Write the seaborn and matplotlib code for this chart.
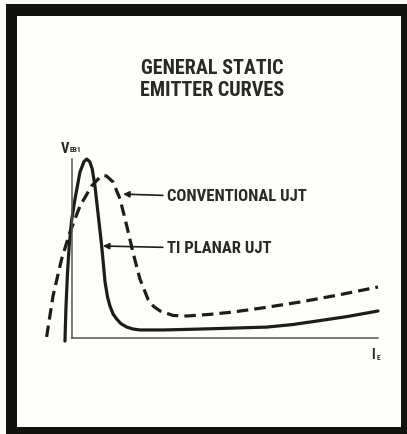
import matplotlib
matplotlib.use("Agg")
import matplotlib.pyplot as plt
from matplotlib.patches import Rectangle
from matplotlib import font_manager
import seaborn as sns
import pandas as pd

# ---- data (arbitrary units, axis spans 0..100) ----
ti_planar_ie = [-2.3, -2.0, -1.5, -0.9, -0.1, 0.98, 2.6, 3.9, 4.8, 5.8, 6.6, 7.5, 8.6, 9.7,
                10.8, 11.6, 12.4, 13.4, 14.6, 16.0, 17.9, 20.0, 22.2, 30.0, 41.8, 52.0,
                63.7, 72.0, 80.1, 90.0, 100.0]
ti_planar_veb = [-1.7, 16.0, 35.5, 52.0, 66.0, 77.7, 92.7, 98.5, 100.0, 98.5, 94.5, 84.9, 68.2,
                 51.4, 31.3, 23.0, 17.9, 13.5, 10.6, 8.0, 6.1, 5.0, 4.5, 4.5, 5.0, 5.5,
                 6.1, 7.5, 9.5, 12.0, 15.1]

conv_ie = [-8.3, -6.2, -3.4, -0.65, 2.6, 6.4, 9.2, 10.3, 11.3, 13.4, 15.7, 17.9, 19.9,
           22.2, 24.8, 26.7, 28.8, 33.0, 37.6, 45.0, 52.6, 63.0, 74.5, 87.0, 100.0]
conv_veb = [0.6, 23.5, 44.1, 59.2, 73.7, 84.9, 90.0, 90.8, 90.5, 87.2, 77.7, 62.6, 48.0,
            33.0, 21.8, 17.6, 15.1, 12.6, 12.3, 13.2, 14.5, 17.0, 20.1, 24.0, 28.5]

title_lines = ["GENERAL STATIC", "EMITTER CURVES"]
series_labels = ["CONVENTIONAL UJT", "TI PLANAR UJT"]

df_ti = pd.DataFrame({"IE": ti_planar_ie, "VEB1": ti_planar_veb})
df_conv = pd.DataFrame({"IE": conv_ie, "VEB1": conv_veb})

# ---- styling ----
sns.set_style("white")

# pick a condensed font if one is installed
fams = {f.name for f in font_manager.fontManager.ttflist}
dejavu_cond = any(f.name == "DejaVu Sans" and str(f.stretch) in ("condensed", "semi-condensed", "600", "500")
                  for f in font_manager.fontManager.ttflist)
FONT = None
STRETCH = "normal"
for cand in ["Liberation Sans Narrow", "Roboto Condensed", "Open Sans Condensed",
             "DejaVu Sans Condensed"]:
    if cand in fams:
        FONT = cand
        break
if FONT is None:
    FONT = "DejaVu Sans"
    if dejavu_cond:
        STRETCH = "condensed"
plt.rcParams["font.family"] = [FONT, "DejaVu Sans"]
plt.rcParams["font.stretch"] = STRETCH
INK = "#1c1c18"
TXT = "#2a2a24"

W, H = 407, 435
fig = plt.figure(figsize=(W / 100, H / 100), dpi=100)
fig.patch.set_facecolor("#fbfbf6")

def fx(px):
    return px / W

def fy(py):
    return 1 - py / H

# frame: black border with cream inside
fig.patches.append(Rectangle((fx(6), fy(435)), fx(407) - fx(6), fy(5) - fy(435),
                             transform=fig.transFigure, facecolor="#121210",
                             edgecolor="none", zorder=-2))
fig.patches.append(Rectangle((fx(17), fy(428)), fx(401) - fx(17), fy(17) - fy(428),
                             transform=fig.transFigure, facecolor="#fdfdf9",
                             edgecolor="none", zorder=-1))

# axes: pixel box x 40..385, y 150..345
ax = fig.add_axes([fx(40), fy(345), fx(385) - fx(40), fy(150) - fy(345)])
ax.set_zorder(2)
ax.patch.set_alpha(0)

sns.lineplot(data=df_conv, x="IE", y="VEB1", sort=False, estimator=None, ax=ax,
             color=INK, lw=2.3, linestyle=(0, (3.6, 1.9)))
sns.lineplot(data=df_ti, x="IE", y="VEB1", sort=False, estimator=None, ax=ax,
             color=INK, lw=2.3)

ax.set_xlim(-10.46, 102.3)
ax.set_ylim(-3.35, 105.6)
ax.set_xlabel("")
ax.set_ylabel("")
ax.set_xticks([])
ax.set_yticks([])
for s in ["top", "right"]:
    ax.spines[s].set_visible(False)
ax.spines["left"].set_position(("data", 0))
ax.spines["bottom"].set_position(("data", 0))
ax.spines["left"].set_bounds(0, 100)
ax.spines["bottom"].set_bounds(0, 100)
for s in ["left", "bottom"]:
    ax.spines[s].set_color("#55554e")
    ax.spines[s].set_linewidth(1.1)

# axis labels
ax.text(-2.3, 104.0, "V", ha="center", va="baseline", fontsize=10.5,
        fontweight="bold", color=TXT, clip_on=False)
ax.text(-0.8, 104.4, "EB1", ha="left", va="baseline", fontsize=5.5,
        fontweight="bold", color=TXT, clip_on=False)
ax.text(98.4, -10.9, "I", ha="center", va="baseline", fontsize=10,
        fontweight="bold", color=TXT, clip_on=False)
ax.text(99.4, -12.0, "E", ha="left", va="baseline", fontsize=5.5,
        fontweight="bold", color=TXT, clip_on=False)

# annotations
arrow = dict(arrowstyle="-|>", color=INK, lw=1.2, shrinkA=1, shrinkB=0,
             relpos=(0, 0.5), mutation_scale=9)
ax.annotate(series_labels[0], xy=(16.7, 80.4), xytext=(31.2, 79.6),
            ha="left", va="center", fontsize=12, fontweight="bold", color=TXT,
            arrowprops=arrow)
ax.annotate(series_labels[1], xy=(10.1, 51.4), xytext=(31.2, 50.6),
            ha="left", va="center", fontsize=12, fontweight="bold", color=TXT,
            arrowprops=arrow)

# title
fig.text(fx(212), fy(69), title_lines[0], ha="center", va="center", fontsize=14.5,
         fontweight="bold", color=TXT)
fig.text(fx(212), fy(91), title_lines[1], ha="center", va="center", fontsize=14.5,
         fontweight="bold", color=TXT)

fig.savefig("out.png", dpi=100)
